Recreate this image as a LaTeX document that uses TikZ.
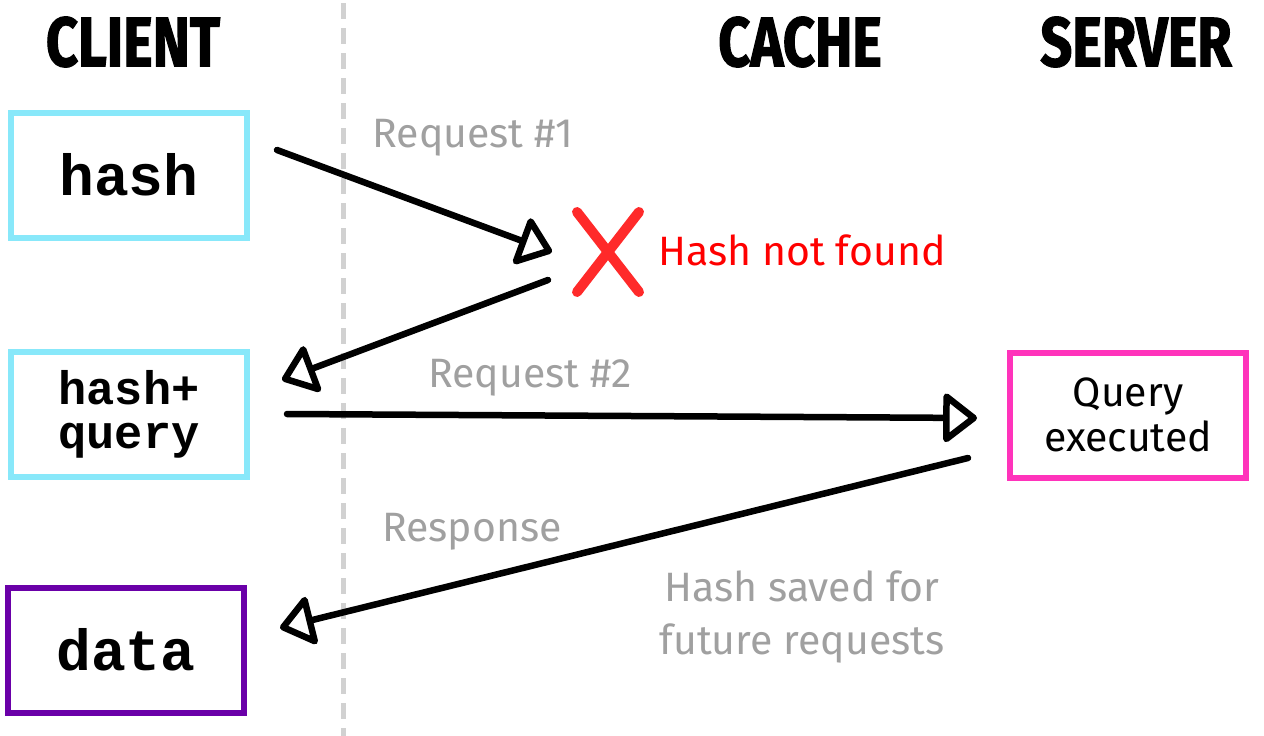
\documentclass[tikz,border=0pt]{standalone}
\usepackage{fontspec}
\usepackage{xcolor}
\setmainfont{Fira Sans}
\newfontfamily\headfont[FakeStretch=0.8,FakeBold=1.5]{Fira Sans}
\newfontfamily\codefont{Liberation Mono}
\usetikzlibrary{arrows.meta}

\definecolor{boxcyan}{HTML}{88E8FA}
\definecolor{boxpurple}{HTML}{6A00A8}
\definecolor{boxpink}{HTML}{FF33BB}
\definecolor{notegray}{HTML}{A0A0A0}
\definecolor{missred}{HTML}{FF2A2A}

\begin{document}
\begin{tikzpicture}[x=1pt,y=-1pt,
    heading/.style={font=\headfont\bfseries\fontsize{70}{70}\selectfont},
    codebox/.style={draw=#1, line width=6pt, minimum width=236pt,
        minimum height=125pt, align=center},
    note/.style={text=notegray, font=\fontsize{41}{53}\selectfont, align=center},
    flow/.style={line width=6.5pt, line cap=round,
        -{Triangle[open,round,length=36pt,width=54pt]}}]
    \useasboundingbox (0,0) rectangle (1264,736);
    % Column headings
    \node[heading] (client) at (133,42) {CLIENT};
    \node[heading] (cache) at (800,42) {CACHE};
    \node[heading] (server) at (1136,42) {SERVER};
    % Dashed line between client and cache
    \draw[line width=5pt, color=black!18, dash pattern=on 16pt off 9pt] (343,3) -- (343,736);
    % Boxes on the client side
    \node[codebox=boxcyan, font=\codefont\bfseries\fontsize{58}{58}\selectfont] (hash) at (129,175) {hash};
    \node[codebox=boxcyan, font=\codefont\bfseries\fontsize{47}{44}\selectfont] (hashq) at (129,414) {hash+\\query};
    \node[codebox=boxpurple, font=\codefont\bfseries\fontsize{58}{58}\selectfont] (data) at (126,650) {data};
    % Box on the server side
    \node[codebox=boxpink, font=\fontsize{41}{45}\selectfont] (query) at (1128,415) {Query\\executed};
    % Cache miss
    \def\s{31}
    \coordinate (miss) at (608,252);
    \draw[missred, line width=10pt, line cap=round]
        ([xshift=-\s pt,yshift=40pt]miss) -- ([xshift=\s pt,yshift=-40pt]miss)
        ([xshift=\s pt,yshift=40pt]miss) -- ([xshift=-\s pt,yshift=-40pt]miss);
    \node[anchor=west, text=red, font=\fontsize{41}{41}\selectfont] (notfound) at (655,250) {Hash not found};
    % Requests and response
    \draw[flow] ([xshift=27pt,yshift=25pt]hash.east) -- ([xshift=-56pt,yshift=0pt]miss);
    \draw[flow] ([xshift=-60pt,yshift=-28pt]miss) -- ([xshift=32pt,yshift=34pt]hashq.east);
    \draw[flow] ([xshift=37pt]hashq.east) -- ([xshift=-30pt,yshift=-3pt]query.west);
    \draw[flow] ([xshift=-39pt,yshift=-43pt]query.west) -- ([xshift=33pt,yshift=22pt]data.east);
    % Labels on the arrows
    \node[note] (req1) at (473,138) {Request \#1};
    \node[note] (req2) at (530,378) {Request \#2};
    \node[note] (resp) at (472,532) {Response};
    \node[note] (saved) at (802,617) {Hash saved for\\future requests};
\end{tikzpicture}
\end{document}
